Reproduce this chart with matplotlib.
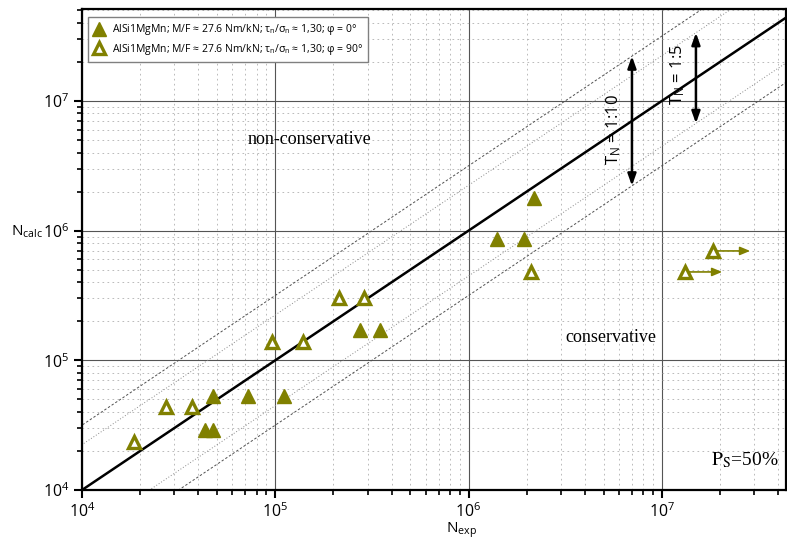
import numpy as np
import matplotlib
matplotlib.use("Agg")
import matplotlib.pyplot as plt
from matplotlib.lines import Line2D
from matplotlib.ticker import LogLocator, NullFormatter, FixedLocator, FixedFormatter

plt.rcParams['font.family'] = ['Open Sans', 'DejaVu Sans']
plt.rcParams['mathtext.fontset'] = 'custom'
plt.rcParams['mathtext.rm'] = 'Open Sans'
plt.rcParams['mathtext.it'] = 'Open Sans:italic'
plt.rcParams['mathtext.bf'] = 'Open Sans:bold'

# ---------------- data ----------------
# phi = 0 deg (filled)
n_exp_0 = [4.76e4, 7.22e4, 4.33e4, 4.76e4, 1.11e5, 2.74e5, 3.48e5, 1.40e6, 1.94e6, 2.18e6]
n_calc_0 = [5.3e4, 5.3e4, 2.9e4, 2.9e4, 5.3e4, 1.7e5, 1.7e5, 8.6e5, 8.6e5, 1.78e6]
# phi = 90 deg (open)
n_exp_90 = [1.86e4, 2.72e4, 3.71e4, 9.6e4, 1.39e5, 2.14e5, 2.88e5, 2.10e6, 1.32e7, 1.84e7]
n_calc_90 = [2.35e4, 4.36e4, 4.36e4, 1.38e5, 1.38e5, 3.02e5, 3.02e5, 4.8e5, 4.8e5, 6.97e5]
# run-outs (arrows)
runout_start = [1.32e7, 1.84e7]
runout_end = [2.05e7, 2.86e7]
runout_calc = [4.8e5, 6.97e5]
# scatter bands
scatter_T = [10, 5]
band_arrow_x = [7.0e6, 1.5e7]
band_labels = [r'T$_{\rm N}$ = 1:10', r'T$_{\rm N}$ = 1:5']
band_label_pos = [(5.6e6, 6.0e6), (1.21e7, 1.61e7)]

labels = [r'AlSi1MgMn; M/F ≈ 27.6 Nm/kN; τ$_{\rm n}$/σ$_{\rm n}$ ≈ 1,30; φ = 0°',
          r'AlSi1MgMn; M/F ≈ 27.6 Nm/kN; τ$_{\rm n}$/σ$_{\rm n}$ ≈ 1,30; φ = 90°']
xticks = [1e4, 1e5, 1e6, 1e7]
xticklabels = [r'$10^{4}$', r'$10^{5}$', r'$10^{6}$', r'$10^{7}$']
yticks = [1e4, 1e5, 1e6, 1e7]
yticklabels = [r'$10^{4}$', r'$10^{5}$', r'$10^{6}$', r'$10^{7}$']

olive = '#808000'

# ---------------- figure ----------------
W, H = 787, 543
fig = plt.figure(figsize=(W / 100, H / 100), dpi=100)
ax = fig.add_axes([82 / W, 1 - 490 / H, 704 / W, 481 / H])
ax.set_xscale('log')
ax.set_yscale('log')
xmax = 10 ** (4 + 704 / 193.3)
ymax = 10 ** (4 + 481 / 129.7)

xl = np.array([1e3, 1e9])
ax.plot(xl, xl, color='black', lw=1.8, zorder=3)
for T, c, ls in zip(scatter_T, ['#505050', '#8a8a8a'], [(0, (2.5, 2)), (0, (1, 2))]):
    ax.plot(xl, xl * np.sqrt(T), color=c, lw=0.7, ls=ls, zorder=2)
    ax.plot(xl, xl / np.sqrt(T), color=c, lw=0.7, ls=ls, zorder=2)

# scatter band arrows
for T, xa, lab, pos in zip(scatter_T, band_arrow_x, band_labels, band_label_pos):
    ax.annotate('', xy=(xa, xa * np.sqrt(T)), xytext=(xa, xa / np.sqrt(T)),
                arrowprops=dict(arrowstyle='<|-|>,head_length=0.7,head_width=0.25',
                                color='black', lw=1.8, shrinkA=0, shrinkB=0), zorder=4)
    ax.text(pos[0], pos[1], lab, rotation=90, ha='center', va='center', fontsize=12)

# run-out arrows
for xs, xe, yc in zip(runout_start, runout_end, runout_calc):
    ax.annotate('', xy=(xe, yc), xytext=(xs, yc),
                arrowprops=dict(arrowstyle='-|>,head_length=0.6,head_width=0.25',
                                color=olive, lw=1.2, shrinkA=0, shrinkB=0), zorder=4)

ax.plot(n_exp_0, n_calc_0, ls='none', marker='^', ms=10, mfc=olive, mec=olive, mew=1, zorder=5)
ax.plot(n_exp_90, n_calc_90, ls='none', marker='^', ms=9, mfc='white', mec=olive, mew=2.4, zorder=5)

ax.set_xlim(1e4, xmax)
ax.set_ylim(1e4, ymax)

ax.xaxis.set_major_locator(FixedLocator(xticks))
ax.xaxis.set_major_formatter(FixedFormatter(xticklabels))
ax.yaxis.set_major_locator(FixedLocator(yticks))
ax.yaxis.set_major_formatter(FixedFormatter(yticklabels))
ax.xaxis.set_minor_locator(LogLocator(base=10, subs=np.arange(2, 10), numticks=50))
ax.yaxis.set_minor_locator(LogLocator(base=10, subs=np.arange(2, 10), numticks=50))
ax.xaxis.set_minor_formatter(NullFormatter())
ax.yaxis.set_minor_formatter(NullFormatter())
ax.tick_params(which='major', direction='out', length=6, width=1.5, labelsize=11.5, pad=3)
ax.tick_params(which='minor', direction='out', length=3.5, width=1.2)

ax.grid(which='major', color='#555555', lw=0.8, ls='-')
ax.grid(which='minor', color='#b0b0b0', lw=0.6, ls=(0, (2, 4)))
ax.set_axisbelow(True)
for s in ax.spines.values():
    s.set_linewidth(1.6)

# texts
ax.text(1.51e5, 5.0e6, 'non-conservative', family='Liberation Serif', fontsize=13,
        ha='center', va='center')
ax.text(5.46e6, 1.49e5, 'conservative', family='Liberation Serif', fontsize=13,
        ha='center', va='center')
ax.text(0.942, 0.062, r'$\mathrm{P_S}$=50%', transform=ax.transAxes, fontsize=14,
        family='Liberation Serif', ha='center', va='center', math_fontfamily='stix')

fig.text(11 / W, 1 - 236 / H, r'N$_{\rm calc}$', ha='left', va='baseline', fontsize=11)
fig.text(446 / W, 1 - 533 / H, r'N$_{\rm exp}$', ha='left', va='baseline', fontsize=11)

handles = [Line2D([], [], ls='none', marker='^', ms=10, mfc=olive, mec=olive, mew=1),
           Line2D([], [], ls='none', marker='^', ms=9, mfc='white', mec=olive, mew=2.4)]
leg = ax.legend(handles, labels, loc='upper left', bbox_to_anchor=(6 / 704, 1 - 8 / 481),
                borderaxespad=0, fontsize=7.5, frameon=True, fancybox=False,
                edgecolor='#808080', framealpha=1, handlelength=1.2, handletextpad=0.6,
                borderpad=0.5, labelspacing=0.45)
leg.get_frame().set_linewidth(1.0)
leg.set_zorder(10)

fig.savefig('out.png', dpi=100)
